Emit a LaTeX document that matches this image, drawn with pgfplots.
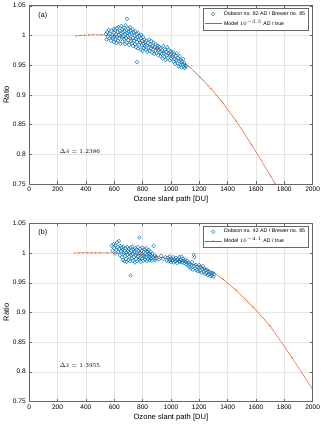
\documentclass[border=0pt]{standalone}
\usepackage{fontspec}
\setmainfont{Liberation Sans}
\usepackage{pgfplots}
\pgfplotsset{compat=1.18}
\definecolor{mblue}{rgb}{0,0.447,0.741}
\definecolor{morange}{rgb}{0.85,0.325,0.098}

\pgfplotsset{
  ozone/.style={
    width=280pt, height=176pt, scale only axis,
    xmin=0, xmax=2000, ymin=0.75, ymax=1.05,
    xtick={0,200,...,2000}, ytick={0.75,0.8,...,1.05},
    yticklabels={0.75,0.8,0.85,0.9,0.95,1,1.05},
    scaled x ticks=false,
    /pgf/number format/assume math mode=true,
    /pgf/number format/1000 sep={},
    tick label style={font=\fontsize{6.5}{7}\selectfont},
    label style={font=\fontsize{7.5}{8}\selectfont},
    xlabel={Ozone slant path [DU]}, ylabel={Ratio},
    xlabel style={yshift=3pt}, ylabel style={yshift=-3pt},
    grid=major, major grid style={gray!20, line width=0.3pt},
    tick align=inside, tick style={black!60, line width=0.3pt},
    major tick length=2.5pt,
    axis line style={black!60, line width=0.4pt},
    legend pos=north east,
    legend style={font=\fontsize{5.2}{6}\selectfont, draw=black!60, line width=0.3pt,
      inner sep=1pt, row sep=-1pt, at={(0.985,0.985)}},
    legend cell align=left,
  },
  dobs/.style={only marks, mark=o, mark size=1.8pt, color=mblue, mark options={line width=0.35pt}},
  model/.style={color=morange, line width=0.4pt, mark=*, mark size=0.35pt},
}

\begin{document}
\begin{tikzpicture}
% ---------- (a)
\begin{axis}[ozone, at={(0,0)}]
\addplot[dobs] coordinates {
(540,1.002)(545,0.993)(550,1.006)(555,0.998)(560,1.009)(565,0.995)(570,1.003)(575,0.991)(580,1.008)(585,1.000)
(590,0.996)(595,1.011)(598,0.989)(600,1.004)(602,0.997)
(605,1.009)(608,0.993)(612,1.002)(615,0.987)(618,1.012)(620,0.998)(624,1.006)(627,0.991)(630,1.014)(633,1.001)
(636,0.995)(640,1.008)(643,0.986)(646,1.003)(650,1.016)(652,0.997)(655,1.010)(658,0.990)(661,1.005)(664,0.999)
(667,1.013)(670,0.993)(672,1.007)(675,0.985)(678,1.002)(680,1.017)(683,0.996)(686,1.009)(688,0.988)(691,1.004)
(694,0.999)(697,1.012)(700,0.992)(702,1.006)(705,0.984)(708,1.001)(710,1.014)(713,0.995)(716,1.008)(719,0.990)
(722,1.003)(725,0.987)(728,1.010)(731,0.996)(734,0.982)(737,1.005)(740,0.991)(743,1.000)(746,0.985)(749,1.007)
(752,0.994)(755,0.980)(758,1.002)(761,0.989)(764,0.997)(767,0.978)(770,1.004)(773,0.992)(776,0.984)(779,0.999)
(782,0.988)(785,0.976)(788,0.995)(791,1.001)(794,0.983)(797,0.991)(800,0.974)(803,0.997)(806,0.986)(809,0.979)
(812,0.993)(815,0.982)(818,0.988)
(822,0.976)(826,0.991)(830,0.983)(834,0.972)(838,0.987)(842,0.979)(846,0.993)(850,0.974)(854,0.985)(858,0.978)
(862,0.990)(866,0.971)(870,0.982)(874,0.976)(878,0.988)(882,0.969)(886,0.980)(890,0.974)(894,0.985)(898,0.970)
(902,0.978)(906,0.983)(910,0.967)(914,0.975)(918,0.981)
(922,0.972)(926,0.965)(930,0.979)(934,0.969)(938,0.975)(942,0.961)(946,0.982)(950,0.970)(954,0.964)(958,0.976)
(962,0.959)(966,0.972)(970,0.966)(974,0.980)(978,0.962)(982,0.969)(986,0.975)(990,0.958)(994,0.967)(998,0.973)
(1002,0.961)(1006,0.970)
(1010,0.964)(1014,0.972)(1018,0.956)(1022,0.968)(1026,0.960)(1030,0.952)(1034,0.966)(1038,0.958)(1042,0.970)
(1046,0.953)(1050,0.962)(1054,0.948)(1058,0.957)(1062,0.965)(1066,0.950)(1070,0.959)(1074,0.946)(1078,0.955)
(1082,0.951)(1086,0.960)(1090,0.947)(1094,0.953)(1098,0.945)(1102,0.950)(1106,0.948)
(690,1.028)(760,0.955)
};
\addlegendentry{Dobson no. 82 AD / Brewer no. 85}
\addplot[model] coordinates {
(330,0.9990)(360,0.9998)(390,1.0004)(420,1.0008)(450,1.0010)(480,1.0010)(510,1.0009)(550,1.0005)
(600,0.9995)(650,0.9975)(700,0.9950)(750,0.9920)(800,0.9880)(850,0.9830)(900,0.9780)(950,0.9720)
(1000,0.9660)(1050,0.9590)(1135,0.9460)(1206,0.9295)(1282,0.9105)(1366,0.8865)(1461,0.8555)
(1569,0.8160)(1704,0.7630)(1735,0.7500)
};
\addlegendentry{Model $10^{-3.5}$ AD /  true}
\node[anchor=north west, font=\fontsize{7}{8}\selectfont] at (rel axis cs:0.02,0.985) {(a)};
\node[anchor=west, font=\fontsize{6.5}{7}\selectfont] at (axis cs:190,0.805) {$\Delta\bar{s} = 1.2386$};
\end{axis}
% ---------- (b)
\begin{axis}[ozone, at={(0,-215pt)}]
\addplot[dobs] coordinates {
(582,1.012)(588,1.004)(594,1.015)(600,1.008)(605,0.999)(610,1.013)(615,1.005)(620,1.018)(625,1.010)(628,1.002)
(632,1.020)(636,1.007)(640,0.996)(644,1.012)(648,1.003)
(652,1.009)(655,0.993)(658,1.005)(661,0.988)(664,1.011)(667,0.999)(670,0.986)(673,1.004)(676,0.995)(679,1.008)
(682,0.990)(685,1.001)(688,0.985)(691,1.010)(694,0.997)(697,1.003)(700,0.988)(703,1.007)(706,0.994)(709,1.000)
(712,0.986)(715,1.009)(718,0.996)(721,1.004)(724,0.991)(727,1.011)(730,0.998)(733,0.987)(736,1.005)(739,0.993)
(742,1.002)(745,0.984)(748,1.008)(751,0.997)(754,0.990)(757,1.006)(760,0.999)(763,0.986)(766,1.010)(769,0.994)
(772,1.003)(775,0.989)(778,1.000)(781,0.992)(784,1.007)(787,0.985)(790,0.998)(793,1.004)(796,0.991)(799,1.009)
(802,0.996)(805,0.987)(808,1.002)(811,0.994)(814,1.006)(817,0.989)(820,1.000)(823,0.993)(826,1.008)(829,0.986)
(832,0.997)(835,1.003)(838,0.990)(841,0.999)(844,1.005)(847,0.992)(850,0.988)(853,0.998)(856,1.002)(859,0.991)
(862,0.995)(866,0.987)(870,0.999)(874,0.993)(878,1.012)(882,0.990)(886,0.996)(890,0.988)(895,0.994)(900,0.991)
(777,1.026)(715,0.962)
(915,0.989)(930,0.995)(945,0.990)(960,0.993)(972,0.987)
(980,0.992)(985,0.986)(990,0.994)(995,0.988)(1000,0.985)(1005,0.991)(1010,0.987)(1015,0.993)(1020,0.984)
(1025,0.990)(1030,0.986)(1035,0.992)(1040,0.988)(1045,0.983)(1050,0.990)(1055,0.986)(1060,0.993)(1065,0.985)
(1070,0.989)(1075,0.994)(1080,0.984)(1085,0.990)(1090,0.987)(1095,0.983)(1100,0.989)(1105,0.985)(1110,0.981)
(1115,0.987)
(1120,0.979)(1125,0.984)(1130,0.976)(1135,0.981)(1140,0.974)(1145,0.979)(1150,0.985)(1155,0.972)(1160,0.997)
(1163,0.978)(1166,0.993)(1170,0.974)(1175,0.980)(1180,0.971)(1185,0.977)(1190,0.969)(1195,0.975)(1200,0.980)
(1205,0.970)(1210,0.976)(1215,0.967)(1220,0.973)(1225,0.978)(1230,0.968)(1235,0.974)(1240,0.965)(1245,0.971)
(1250,0.966)(1255,0.972)(1260,0.963)(1265,0.969)(1270,0.964)(1275,0.968)(1280,0.961)(1285,0.966)(1290,0.962)
(1295,0.967)(1300,0.960)(1305,0.964)
};
\addlegendentry{Dobson no. 42 AD / Brewer no. 85}
\addplot[model] coordinates {
(322,1.0000)(350,1.0001)(380,1.0002)(410,1.0003)(440,1.0003)(470,1.0003)(500,1.0003)(550,1.0002)
(600,1.0000)(700,0.9990)(800,0.9970)(900,0.9940)(1000,0.9900)(1100,0.9850)(1200,0.9780)(1300,0.9670)
(1366,0.9560)(1461,0.9370)(1580,0.9090)(1700,0.8770)(1854,0.8240)(2000,0.7700)
};
\addlegendentry{Model $10^{-4.1}$ AD /  true}
\node[anchor=north west, font=\fontsize{7}{8}\selectfont] at (rel axis cs:0.02,0.985) {(b)};
\node[anchor=west, font=\fontsize{6.5}{7}\selectfont] at (axis cs:190,0.811) {$\Delta\bar{s} = 1.3955$};
\end{axis}
\end{tikzpicture}
\end{document}
